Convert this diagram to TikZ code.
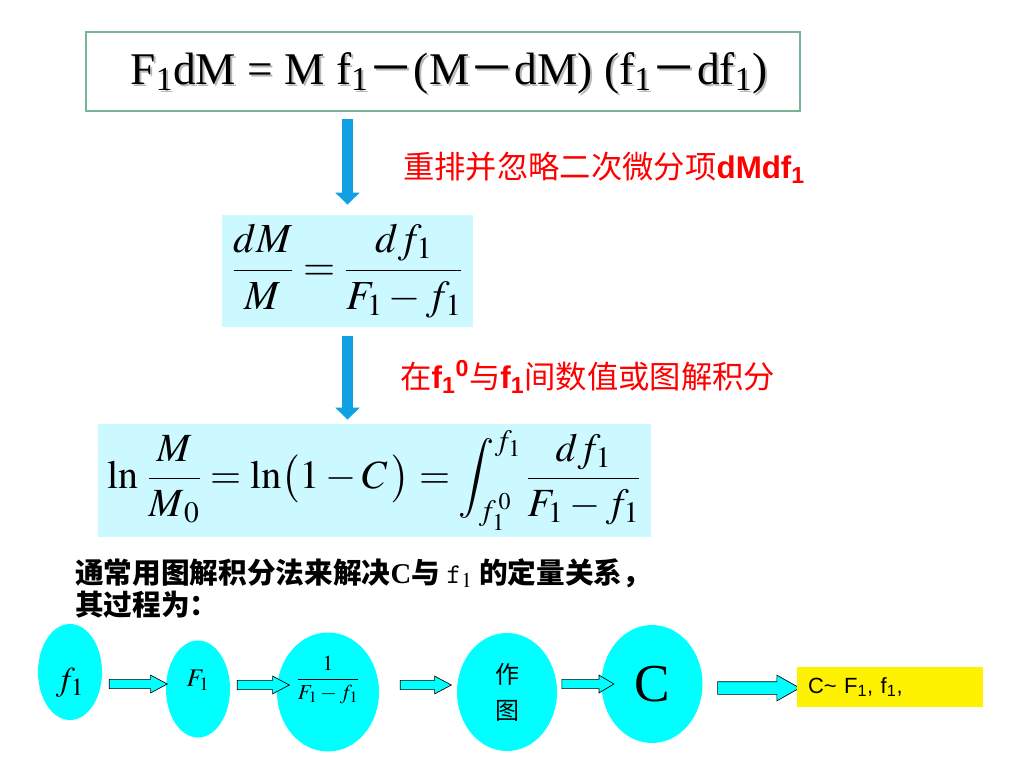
\documentclass[tikz,border=0pt]{standalone}
\usepackage{mathptmx}
\usepackage{fontspec}
\setmainfont{Liberation Serif}
\newfontfamily\cjk{Noto Sans CJK SC}
\newfontfamily\arial{Liberation Sans}
\usepackage{tikz}
\usetikzlibrary{shapes,arrows,arrows.meta}

\definecolor{cadre}{RGB}{120,180,150}
\definecolor{bleuciel}{RGB}{204,248,255}
\definecolor{fleche}{RGB}{16,160,228}
\definecolor{cyanvif}{RGB}{0,255,255}

\begin{document}
\begin{tikzpicture}[x=0.75pt,y=-0.75pt]
	\useasboundingbox (0,0) rectangle (1024,768);
	\tikzstyle{boite}=[rectangle,draw=cadre,line width=0.9pt,inner sep=0pt]
	\tikzstyle{formule}=[rectangle,fill=bleuciel,inner sep=0pt]
	\tikzstyle{rouge}=[anchor=west,text=red,inner sep=0pt,
	font=\cjk\fontsize{23.5}{28}\selectfont]
	\tikzstyle{bulle}=[ellipse,fill=cyanvif,inner sep=0pt]
	\tikzstyle{pousse}=[single arrow,draw=black,fill=cyanvif,line width=0.5pt,
	inner xsep=0pt,inner ysep=3.2pt,single arrow head extend=3.2pt,
	single arrow tip angle=56]

	\node[text=gray!55,font=\fontsize{34}{40}\selectfont] (ombre) at (451,75)
	{F\textsubscript{1}dM = M f\textsubscript{1}{\cjk －}(M{\cjk －}dM)
	(f\textsubscript{1}{\cjk －}df\textsubscript{1})};
	\node[boite,minimum width=535.5pt,minimum height=59.25pt] (b1) at (443,71.5) {};
	\node[font=\fontsize{34}{40}\selectfont] (eq1) at (449,73)
	{F\textsubscript{1}dM = M f\textsubscript{1}{\cjk －}(M{\cjk －}dM)
	(f\textsubscript{1}{\cjk －}df\textsubscript{1})};

	\node[formule,minimum width=188.25pt,minimum height=84pt] (b2) at (347.5,271)
	{\fontsize{31}{36}\selectfont $\displaystyle\frac{dM}{M}=\frac{df_1}{F_1-f_1}$};
	\node[formule,minimum width=414.75pt,minimum height=84.75pt] (b3) at (374,480.5)
	{\fontsize{30}{34}\selectfont $\displaystyle\ln\,\frac{M}{M_{\,0}}=\ln\bigl(1-C\,\bigr)
	=\int_{f_1^{\,0}}^{f_1}\frac{df_1}{F_1-f_1}$};

	\node[rouge] (r1) at (403,168) {重排并忽略二次微分项{\arial\bfseries dMdf\textsubscript{1}}};
	\node[rouge] (r2) at (400,377) {在{\arial\bfseries f\textsubscript{1}\textsuperscript{0}}与{\arial\bfseries
	f\textsubscript{1}}间数值或图解积分};

	\tikzstyle{descend}=[draw=fleche,line width=8.25pt,
	-{Triangle[width=17.5pt,length=9pt]}]
	\draw[descend,shorten <=5.25pt,shorten >=7.5pt] (b2 |- b1.south) -- (b2.north);
	\draw[descend,shorten <=6.75pt,shorten >=3pt] (b2.south) -- (b2 |- b3.north);

	\node[anchor=west,align=left,inner sep=0pt,
	font=\cjk\bfseries\fontsize{21.5}{24}\selectfont] (txt) at (75,588)
	{通常用图解积分法来解决{\rmfamily\bfseries C}与 {\ttfamily\mdseries f$_1$} 的定量关系，\\其过程为：};

	\node[bulle,minimum width=48pt,minimum height=72pt,
	label={[yshift=-8pt]center:{\fontsize{25}{30}\selectfont $f_1$}}] (e1) at (70,672) {};
	\node[bulle,minimum width=48pt,minimum height=72.75pt,
	label={[yshift=6.75pt]center:{\fontsize{19}{24}\selectfont $F_1$}}] (e2) at (198,689) {};
	\node[bulle,minimum width=76.5pt,minimum height=89.25pt,
	label={[yshift=9pt]center:{\fontsize{16}{20}\selectfont $\displaystyle\frac{1}{F_1-f_1}$}}]
	(e3) at (328,692) {};
	\node[bulle,minimum width=75pt,minimum height=88.5pt,align=center,
	font=\cjk\fontsize{18}{27}\selectfont] (e4) at (507,692) {作\\图};
	\node[bulle,minimum width=75.75pt,minimum height=88.5pt,
	font=\fontsize{40}{44}\selectfont] (e5) at (652,684) {C};

	\node[pousse,minimum height=43.5pt] (p1) at (134,684) {};
	\node[pousse,minimum height=39pt] (p2) at (259,685) {};
	\node[pousse,minimum height=38.25pt] (p3) at (421.5,685) {};
	\node[pousse,minimum height=39pt,single arrow tip angle=62] (p4) at (584,684) {};
	\node[pousse,minimum height=61.5pt,inner ysep=4.5pt,single arrow head extend=4.9pt,
	single arrow tip angle=59] (p5) at (753,688) {};

	\node[rectangle,fill=yellow,minimum width=139.5pt,minimum height=30pt,
	text width=123pt,inner xsep=8.25pt,align=left,
	font=\arial\fontsize{16.5}{20}\selectfont] (res) at (890,687)
	{C\textasciitilde{} F\textsubscript{1}, f\textsubscript{1},};
\end{tikzpicture}
\end{document}
